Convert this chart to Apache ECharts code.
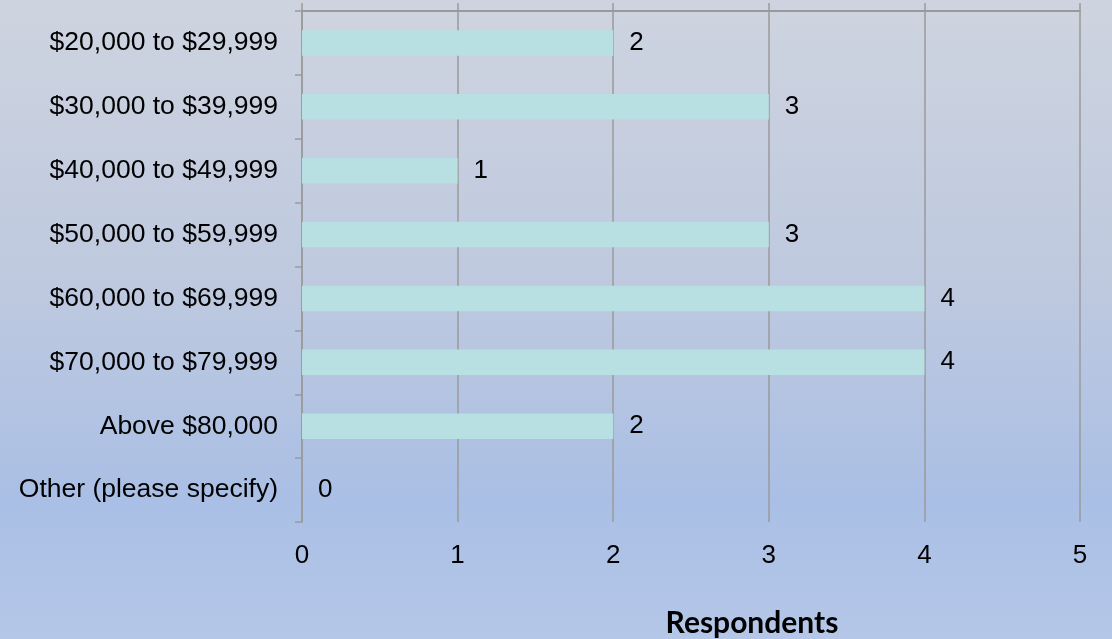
<!DOCTYPE html>
<html>
<head>
<meta charset="utf-8">
<script src="https://cdn.jsdelivr.net/npm/echarts@6/dist/echarts.min.js"></script>
<style>
html,body{margin:0;padding:0;}
#c{width:1112px;height:639px;}
</style>
</head>
<body>
<div id="c"></div>
<script>
const categories = ["$20,000 to $29,999","$30,000 to $39,999","$40,000 to $49,999","$50,000 to $59,999","$60,000 to $69,999","$70,000 to $79,999","Above $80,000","Other (please specify)"];
const respondents = [2,3,1,3,4,4,2,0];
const axisTitle = "Respondents";

const chart = echarts.init(document.getElementById('c'));
chart.setOption({
  animation:false,
  backgroundColor:{type:'linear',x:0,y:0,x2:0,y2:1,colorStops:[
    {offset:0,color:'#CED4DF'},
    {offset:0.45,color:'#BEC9DF'},
    {offset:0.78,color:'#AABFE5'},
    {offset:1,color:'#B4C7E8'}
  ]},
  grid:{left:302,right:32,top:11,bottom:117},
  xAxis:[{
    type:'value',min:0,max:5,interval:1,position:'bottom',
    axisLine:{show:false},axisTick:{show:false},
    axisLabel:{color:'#000',fontFamily:'Liberation Sans, Arial',fontSize:26,margin:21},
    splitLine:{show:true,lineStyle:{color:'#9A9A9A',width:1.5}}
  },{
    type:'value',min:0,max:5,interval:1,position:'top',
    axisLine:{show:true,lineStyle:{color:'#9A9A9A',width:2}},
    axisTick:{show:true,length:8,lineStyle:{color:'#9A9A9A',width:1.5}},
    axisLabel:{show:false},splitLine:{show:false}
  }],
  yAxis:{
    type:'category',data:categories,inverse:true,
    axisLine:{show:true,lineStyle:{color:'#9A9A9A',width:1.5}},
    axisTick:{show:true,length:7,lineStyle:{color:'#9A9A9A',width:1.5}},
    axisLabel:{color:'#000',fontFamily:'Liberation Sans, Arial',fontSize:26.5,margin:24}
  },
  graphic:[{type:'text',x:752,y:623,
    style:{text:axisTitle,fill:'#000',font:'bold 30px Lato',textAlign:'center',textVerticalAlign:'middle'}}],
  series:[{
    type:'bar',data:respondents,xAxisIndex:0,barWidth:'40%',
    itemStyle:{color:'#B8E0E2'},
    label:{show:true,position:'right',distance:16,color:'#000',fontFamily:'Liberation Sans, Arial',fontSize:26}
  }]
});
</script>
</body>
</html>
